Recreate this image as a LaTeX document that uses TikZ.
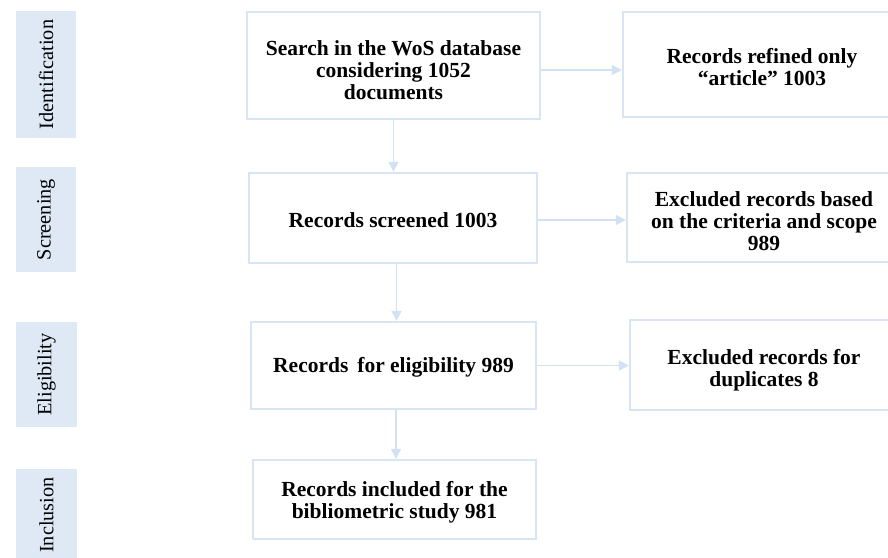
\documentclass[tikz,border=0pt]{standalone}
\usepackage{fontspec}
\setmainfont{Liberation Serif}
\usetikzlibrary{arrows.meta}
\definecolor{edgeblue}{HTML}{D8E5F4}
\definecolor{tagfill}{HTML}{DEE9F5}
\definecolor{arrowblue}{HTML}{D3E2F3}
\tikzset{
  stagetag/.style={fill=tagfill, draw=none, inner sep=0pt, rotate=90,
    font=\fontsize{20.3}{22}\selectfont},
  flowbox/.style={draw=edgeblue, line width=2.4pt, fill=white, inner sep=0pt},
  boxtext/.style={inner sep=0pt, align=center,
    font=\bfseries\fontsize{21.5}{22}\selectfont},
  flowarrow/.style={draw=arrowblue, line width=1.6pt,
    -{Triangle[length=10pt,width=10pt]}}
}
\begin{document}
\begin{tikzpicture}[x=1pt,y=-1pt]
  \useasboundingbox (0,0) rectangle (888,557);
  \clip (0,0) rectangle (888,557);
  \fill[white] (0,0) rectangle (888,557);

  % stage tags on the left (width/height swapped by the rotation)
  \node[stagetag, minimum width=127pt, minimum height=60pt] (tid) at (46,74.5) {Identification};
  \node[stagetag, minimum width=105pt, minimum height=60pt] (tsc) at (46,219.5) {Screening};
  \node[stagetag, minimum width=105pt, minimum height=61pt] (tel) at (46.5,374.5) {Eligibility};
  \node[stagetag, minimum width=92pt, minimum height=61pt] (tin) at (46.5,515) {Inclusion};

  % main column frames
  \node[flowbox, minimum width=293pt, minimum height=107pt] (search) at (393.5,65.5) {};
  \node[flowbox, minimum width=288pt, minimum height=90pt] (screen) at (393,218) {};
  \node[flowbox, minimum width=285pt, minimum height=87pt] (elig) at (393.5,365.5) {};
  \node[flowbox, minimum width=283pt, minimum height=79pt] (incl) at (394.5,499.5) {};

  % right column frames (they run past the right edge)
  \node[flowbox, minimum width=278pt, minimum height=105pt] (refined) at (762,64.5) {};
  \node[flowbox, minimum width=274pt, minimum height=89pt] (excl) at (764,217.5) {};
  \node[flowbox, minimum width=268pt, minimum height=90pt] (dupl) at (764,365) {};

  % box texts, set a little below the frame centres
  \node[boxtext] (searcht) at ([yshift=-5pt]search.center)
    {Search in the WoS database\\considering 1052\\documents};
  \node[boxtext] (screent) at ([yshift=-2pt]screen.center) {Records screened 1003};
  \node[boxtext] (eligt) at ([yshift=-1.5pt]elig.center) {Records\, for eligibility 989};
  \node[boxtext] (inclt) at ([yshift=-3pt]incl.center)
    {Records included for the\\bibliometric study 981};
  \node[boxtext] (refinedt) at ([yshift=-3pt]refined.center)
    {Records refined only\\``article'' 1003};
  \node[boxtext] (exclt) at ([yshift=-3.5pt]excl.center)
    {Excluded records based\\on the criteria and scope\\989};
  \node[boxtext] (duplt) at ([yshift=-5pt]dupl.center)
    {Excluded records for\\duplicates 8};

  % connectors
  \draw[flowarrow] ([yshift=-4.5pt]search.east) -- ([yshift=-5.5pt]refined.west);
  \draw[flowarrow] (search.south) -- (search.south |- screen.north);
  \draw[flowarrow] ([yshift=-2pt]screen.east) -- ([yshift=-2.5pt]excl.west);
  \draw[flowarrow] ([xshift=3.5pt]screen.south) -- ([xshift=3.5pt]screen.south |- elig.north);
  \draw[flowarrow] (elig.east) -- (elig.east -| dupl.west);
  \draw[flowarrow] ([xshift=2.5pt]elig.south) -- ([xshift=2.5pt]elig.south |- incl.north);
\end{tikzpicture}
\end{document}
